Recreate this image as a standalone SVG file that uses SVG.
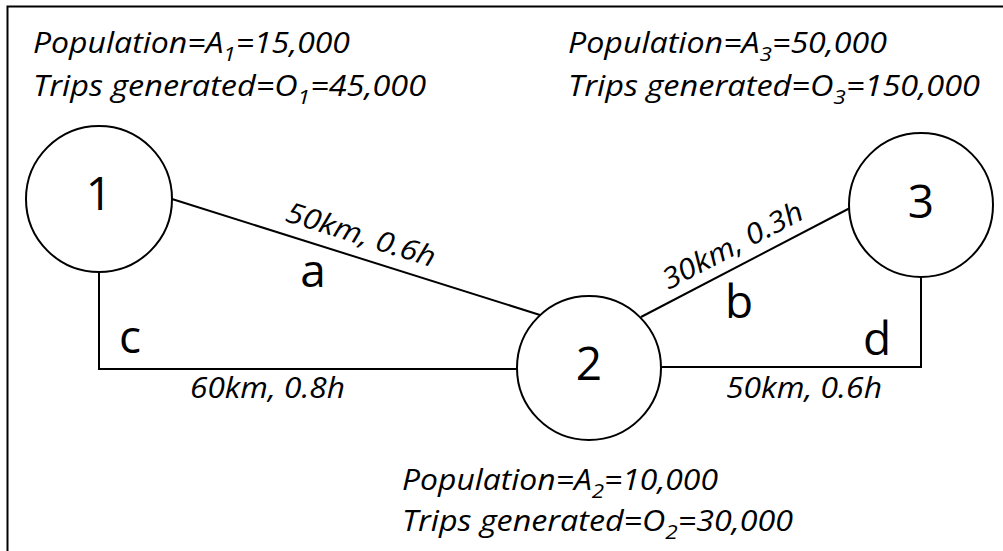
<svg xmlns="http://www.w3.org/2000/svg" width="1003" height="551" viewBox="0 0 1003 551">
<style>
.frame{fill:none;stroke:#000;stroke-width:2}
.node{fill:#fff;stroke:#000;stroke-width:2}
.edge{fill:none;stroke:#000;stroke-width:2}
.big{font-family:"Open Sans","Noto Sans",sans-serif;font-size:46px;fill:#000;text-anchor:middle}
.lbl{font-family:"Open Sans","Noto Sans",sans-serif;font-style:italic;font-size:28.5px;fill:#000}
.sub{font-size:20px}
</style>
<rect width="1003" height="551" fill="#fff"/>
<rect class="frame" x="7.5" y="6.5" width="1010" height="560"/>
<g id="connectors">
  <line id="edge-a" class="edge" x1="172" y1="199" x2="540" y2="315"/>
  <line id="edge-b" class="edge" x1="641" y1="317" x2="850" y2="208"/>
  <polyline id="edge-c" class="edge" points="99,272 99,369 518,369"/>
  <polyline id="edge-d" class="edge" points="660,367 921,367 921,277"/>
  <text class="big" x="313" y="287">a</text>
  <text class="big" x="739" y="318">b</text>
  <text class="big" x="130" y="353">c</text>
  <text class="big" x="877" y="355">d</text>
  <text class="lbl" text-anchor="middle" x="358" y="244" textLength="155" lengthAdjust="spacingAndGlyphs" transform="rotate(17.5 358 244)">50km, 0.6h</text>
  <text class="lbl" text-anchor="middle" x="737" y="254" textLength="155" lengthAdjust="spacingAndGlyphs" transform="rotate(-27.7 737 254)">30km, 0.3h</text>
  <text class="lbl" x="190" y="398" textLength="155" lengthAdjust="spacingAndGlyphs">60km, 0.8h</text>
  <text class="lbl" x="726" y="398" textLength="156" lengthAdjust="spacingAndGlyphs">50km, 0.6h</text>
</g>
<g id="node1">
  <circle class="node" cx="99" cy="199" r="73"/>
  <text class="big" x="99" y="210">1</text>
  <text class="lbl" x="33" y="53" textLength="317" lengthAdjust="spacingAndGlyphs">Population=A<tspan class="sub" dy="8">1</tspan><tspan dy="-8">=15,000</tspan></text>
  <text class="lbl" x="33" y="96" textLength="393" lengthAdjust="spacingAndGlyphs">Trips generated=O<tspan class="sub" dy="8">1</tspan><tspan dy="-8">=45,000</tspan></text>
</g>
<g id="node2">
  <circle class="node" cx="589" cy="368" r="72"/>
  <text class="big" x="589" y="380">2</text>
  <text class="lbl" x="402" y="490" textLength="316" lengthAdjust="spacingAndGlyphs">Population=A<tspan class="sub" dy="8">2</tspan><tspan dy="-8">=10,000</tspan></text>
  <text class="lbl" x="402" y="531" textLength="391" lengthAdjust="spacingAndGlyphs">Trips generated=O<tspan class="sub" dy="8">2</tspan><tspan dy="-8">=30,000</tspan></text>
</g>
<g id="node3">
  <circle class="node" cx="921" cy="205" r="72"/>
  <text class="big" x="921" y="218">3</text>
  <text class="lbl" x="568" y="53" textLength="319" lengthAdjust="spacingAndGlyphs">Population=A<tspan class="sub" dy="8">3</tspan><tspan dy="-8">=50,000</tspan></text>
  <text class="lbl" x="568" y="96" textLength="412" lengthAdjust="spacingAndGlyphs">Trips generated=O<tspan class="sub" dy="8">3</tspan><tspan dy="-8">=150,000</tspan></text>
</g>
</svg>
